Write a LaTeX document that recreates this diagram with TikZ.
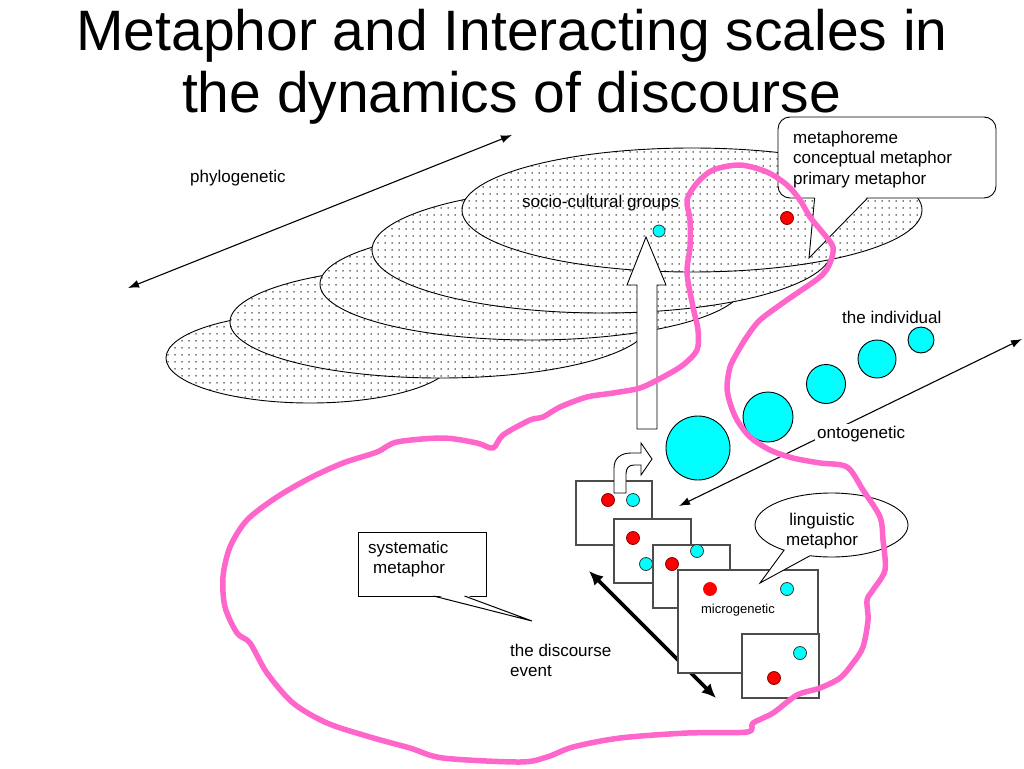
\documentclass[tikz,border=0pt]{standalone}
\usepackage{fontspec}
\setmainfont{Liberation Sans}
\usetikzlibrary{arrows.meta,patterns.meta,shapes.callouts,shapes.geometric}
\definecolor{cy}{HTML}{00FFFF}
\definecolor{rd}{HTML}{FF0000}
\definecolor{pk}{HTML}{FF66CC}
\begin{document}
\begin{tikzpicture}[x=1pt,y=-1pt,
  lbl/.style={font=\fontsize{17}{20.5}\selectfont, inner sep=0pt},
  layer/.style={draw=black, line width=0.9pt, fill=white,
    postaction={pattern={Dots[distance=7pt,radius=0.75pt]}, pattern color=black}},
  thinarrow/.style={line width=1.1pt, {Latex[length=11pt,width=8pt]}-{Latex[length=11pt,width=8pt]}},
  bigcirc/.style={circle, draw=black, line width=0.9pt, fill=cy, inner sep=0pt},
  cdot/.style={circle, draw=black!80, line width=0.8pt, fill=cy, inner sep=0pt, minimum size=13pt},
  rdot/.style={circle, draw=red!50!black, line width=0.8pt, fill=rd, inner sep=0pt, minimum size=13pt},
  frame/.style={rectangle, draw=black!70, line width=1.1pt, fill=white, inner sep=0pt},
  whiteshape/.style={draw=black, line width=0.9pt, fill=white, line join=miter},
  titlefont/.style={font=\fontsize{57}{62}\selectfont, anchor=base, inner sep=0pt}
]
\fill[white] (0,0) rectangle (1024,768);
\useasboundingbox (0,0) rectangle (1024,768);

% title
\node[titlefont] (title1) at (512,51) {Metaphor and Interacting scales in};
\node[titlefont] (title2) at (511.5,112) {the dynamics of discourse};

% phylogenetic
\coordinate (ph1) at (128,288);
\coordinate (ph2) at (512,135);
\draw[thinarrow] (ph1) -- (ph2);
\node[lbl, anchor=base west] (phy) at (190,182) {phylogenetic};

% layers
\path[layer] (310,358) ellipse [x radius=144pt, y radius=45pt];
\path[layer] (440,322) ellipse [x radius=210pt, y radius=56pt];
\path[layer] (532,284) ellipse [x radius=212pt, y radius=56pt];
\path[layer] (602,250) ellipse [x radius=230pt, y radius=63pt];
\path[layer] (692,210) ellipse [x radius=230pt, y radius=62pt];
\node[lbl, anchor=base west] (soc) at (522,207) {socio-cultural groups};
\node[cdot, minimum size=12pt] (sc) at (659,231) {};
\node[rdot] (sr) at (787,218) {};

% top callout
\node[draw=black, line width=0.9pt, fill=white, rounded corners=12pt, minimum width=218pt, minimum height=81pt, inner sep=0pt] (cal1) at (887,157.5) {};
\fill[white] (814.6,196.5) -- (809,258) -- (867.4,196.5) -- cycle;
\draw[line width=0.9pt] (814.6,198.2) -- (809,258) -- (867.4,198.2);
\node[lbl, anchor=north west, align=left] (cal1t) at (793,130.8) {metaphoreme\\conceptual metaphor\\primary metaphor};

% up arrow
\draw[whiteshape] (637,429) -- (637,285) -- (627,285) -- (646,237) -- (666,285) -- (657,285) -- (657,429) -- cycle;

% individual circles
\node[bigcirc, minimum size=64pt] (i1) at (698,448) {};
\node[bigcirc, minimum size=50pt] (i2) at (768,417) {};
\node[bigcirc, minimum size=39pt] (i3) at (826,384) {};
\node[bigcirc, minimum size=38pt] (i4) at (877,359) {};
\node[bigcirc, minimum size=26pt] (i5) at (921,340) {};
\node[lbl, anchor=base west] (ind) at (842,323) {the individual};

% ontogenetic
\coordinate (on1) at (679,506);
\coordinate (on2) at (1022,339);
\draw[thinarrow] (on1) -- (on2);
\node[lbl, anchor=base west, fill=white, inner sep=2pt] (ont) at (815,438) {ontogenetic};

% discourse axis
\coordinate (d1) at (589,571);
\coordinate (d2) at (716,698);
\draw[line width=3.6pt, {Latex[length=14pt,width=13pt]}-{Latex[length=14pt,width=13pt]}] (d1) -- (d2);

% frames
\node[frame, minimum width=76pt, minimum height=64pt] (fA) at (614,513) {};
\node[rdot] (fAr) at (608,500) {};
\node[cdot] (fAc) at (633,500) {};
\node[frame, minimum width=77pt, minimum height=64pt] (fB) at (652.5,551) {};
\node[rdot] (fBr) at (633,538) {};
\node[cdot] (fBc) at (646,564) {};
\node[frame, minimum width=77pt, minimum height=63pt] (fC) at (691.5,576.5) {};
\node[rdot] (fCr) at (672,564) {};
\node[cdot] (fCc) at (697,551) {};
\node[frame, minimum width=140pt, minimum height=103pt] (fD) at (748,621.5) {};
\node[rdot, draw=rd] (fDr) at (710,589) {};
\node[cdot] (fDc) at (787,589) {};
\node[font=\fontsize{13}{15}\selectfont, anchor=base, inner sep=0pt] (micro) at (738,613) {microgenetic};
\node[frame, minimum width=77pt, minimum height=64pt] (fE) at (780.5,666) {};
\node[cdot] (fEc) at (800,653) {};
\node[rdot] (fEr) at (774,678) {};

% bent arrow
\draw[whiteshape] (614,493) -- (614,468) .. controls (614,459) and (620,453) .. (631,453) -- (641,453) -- (641,443) -- (652,459) -- (641,475) -- (641,465) -- (634,465) .. controls (629,465) and (626,468) .. (626,474) -- (626,493) -- cycle;

% linguistic metaphor callout
\node[ellipse callout, draw=black, line width=0.9pt, fill=white, minimum width=153pt, minimum height=64pt, inner sep=0pt, callout absolute pointer={(760,583)}, callout pointer arc=22] (ling) at (831.5,525) {};
\node[lbl, anchor=north, align=center] (lingt) at (822,512.8) {linguistic\\metaphor};

% systematic metaphor callout
\node[draw=black, line width=1pt, fill=white, minimum width=128pt, minimum height=64pt, inner sep=0pt] (sys) at (422,564) {};
\fill[white] (433.5,594.5) -- (532,621) -- (464.5,594.5) -- cycle;
\draw[line width=1pt] (433.5,596) -- (532,621) -- (464.5,596);
\node[lbl, anchor=north west, align=left] (syst) at (368,540.8) {systematic\\\hspace*{5pt}metaphor};

\node[lbl, anchor=north west, align=left] (disc) at (510,643.8) {the discourse\\event};

% pink boundary
\draw[pk, line width=5.5pt, line join=round] plot[smooth cycle, tension=0.5] coordinates {
(493,448) (503,435) (530,420) (543,417) (560,407) (587,397) (613,393) (640,388) (663,377) (683,365) (697,350) (698,330) (693,307) (687,273) (690,247) (690,220) (687,200) (697,183) (713,170) (740,165) (767,172) (787,185) (800,200) (810,217) (823,233) (833,247) (830,263) (820,277) (787,300) (760,320) (746,338) (737,353) (730,367) (727,387) (730,403) (737,420) (750,437) (770,450) (793,458) (820,463) (847,467) (863,490) (880,517) (883,540) (885,570) (873,590) (867,600) (868,620) (863,647) (853,663) (840,678) (820,688) (797,695) (773,713) (753,723) (747,732) (687,733) (620,738) (573,747) (547,757) (520,762) (443,758) (410,748) (370,737) (327,723) (293,703) (267,673) (250,643) (237,633) (225,607) (223,577) (230,547) (247,520) (277,497) (310,478) (343,463) (377,452) (397,442) (443,438) (477,443)};
\end{tikzpicture}
\end{document}
